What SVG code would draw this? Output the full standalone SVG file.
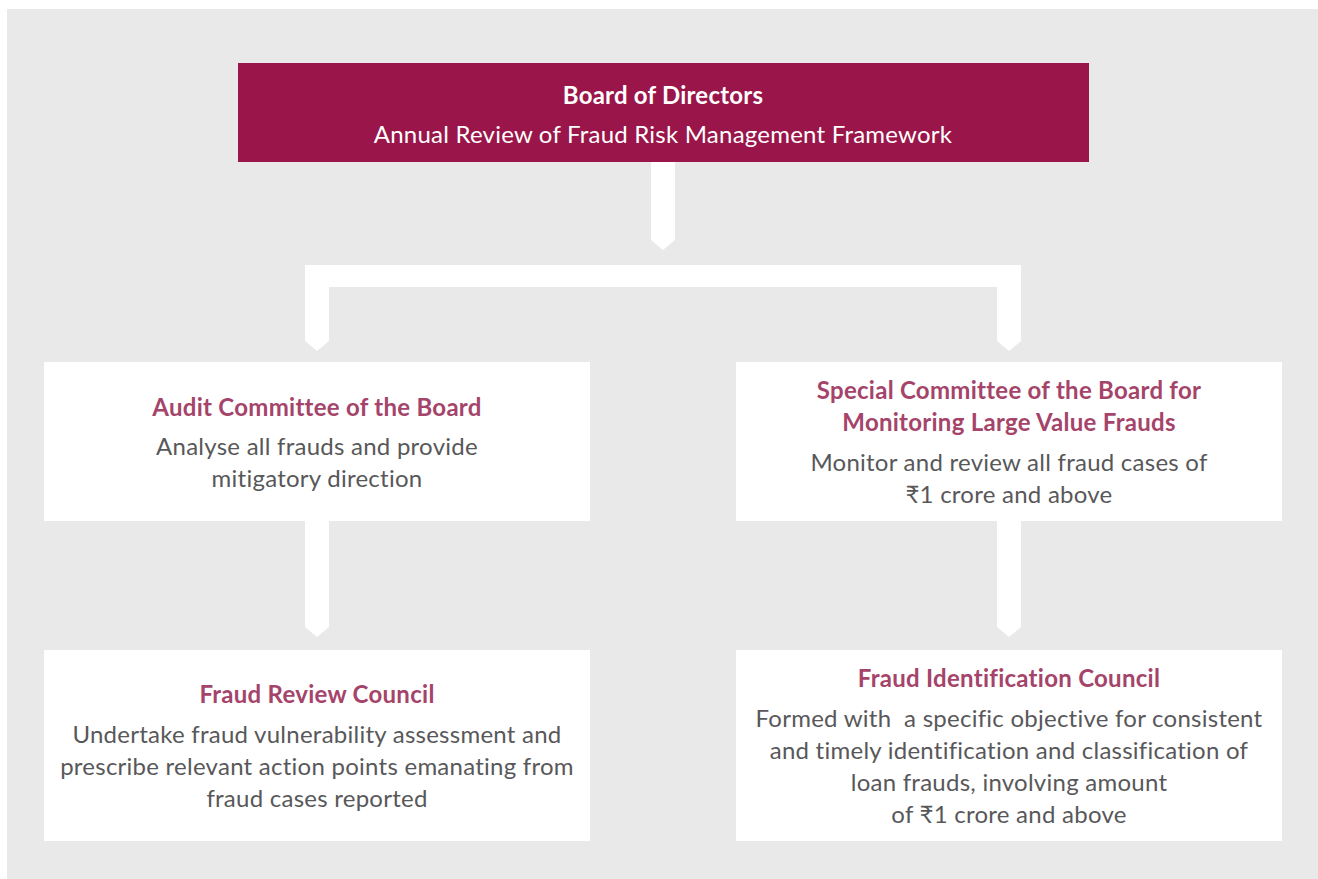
<svg xmlns="http://www.w3.org/2000/svg" width="1318" height="879" viewBox="0 0 1318 879">
<style>
.box{fill:#ffffff}
.t{font-family:Lato,"Open Sans","Liberation Sans",sans-serif;font-weight:bold;font-size:24px;letter-spacing:0.27px;fill:#A5446A;text-anchor:middle}
.b{font-family:Lato,"Open Sans","Liberation Sans",sans-serif;font-size:24px;letter-spacing:0.25px;fill:#58585a;text-anchor:middle}
.w{font-family:Lato,"Open Sans","Liberation Sans",sans-serif;font-size:24px;letter-spacing:0.22px;fill:#ffffff;text-anchor:middle}
.conn{fill:#ffffff}
</style>
<rect x="0" y="0" width="1318" height="879" fill="#ffffff"/>
<rect x="7" y="9" width="1311" height="870" fill="#e9e9e9"/>
<g id="connectors">
<polygon class="conn" points="651,162 675,162 675,240 663,250 651,240"/>
<polygon class="conn" points="305,265 1021,265 1021,341 1009,351 997,341 997,287 329,287 329,341 317,351 305,341"/>
<polygon class="conn" points="305,521 329,521 329,627 317,637 305,627"/>
<polygon class="conn" points="997,521 1021,521 1021,627 1009,637 997,627"/>
</g>
<g id="board">
<rect x="238" y="63" width="851" height="99" fill="#9a1549"/>
<text class="w" x="663" y="104" font-weight="bold">Board of Directors</text>
<text class="w" x="663" y="143">Annual Review of Fraud Risk Management Framework</text>
</g>
<g id="audit">
<rect class="box" x="44" y="362" width="546" height="159"/>
<text class="t" x="317" y="416">Audit Committee of the Board</text>
<text class="b" x="317" y="455">Analyse all frauds and provide</text>
<text class="b" x="317" y="487">mitigatory direction</text>
</g>
<g id="special">
<rect class="box" x="736" y="362" width="546" height="159"/>
<text class="t" x="1009" y="399">Special Committee of the Board for</text>
<text class="t" x="1009" y="431">Monitoring Large Value Frauds</text>
<text class="b" x="1009" y="471">Monitor and review all fraud cases of</text>
<text class="b" x="1009" y="503">₹1 crore and above</text>
</g>
<g id="review">
<rect class="box" x="44" y="650" width="546" height="191"/>
<text class="t" x="317" y="703">Fraud Review Council</text>
<text class="b" x="317" y="743">Undertake fraud vulnerability assessment and</text>
<text class="b" x="317" y="775">prescribe relevant action points emanating from</text>
<text class="b" x="317" y="807">fraud cases reported</text>
</g>
<g id="identification">
<rect class="box" x="736" y="650" width="546" height="191"/>
<text class="t" x="1009" y="687">Fraud Identification Council</text>
<text class="b" x="1009" y="727" xml:space="preserve">Formed with  a specific objective for consistent</text>
<text class="b" x="1009" y="759">and timely identification and classification of</text>
<text class="b" x="1009" y="791">loan frauds, involving amount</text>
<text class="b" x="1009" y="823">of ₹1 crore and above</text>
</g>
</svg>
